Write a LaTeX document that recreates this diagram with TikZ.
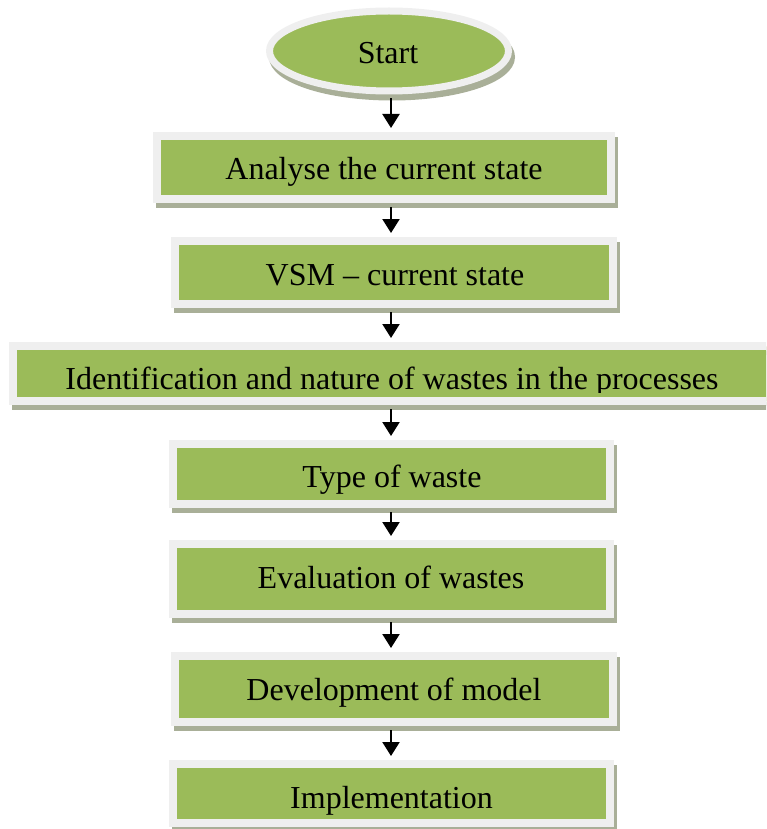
\documentclass[tikz,border=0pt]{standalone}
\usepackage{fontspec}
\setmainfont{Liberation Serif}
\usetikzlibrary{arrows.meta,shapes.geometric}
\definecolor{boxgreen}{HTML}{9BBB59}
\definecolor{boxrim}{HTML}{EFEFEF}
\definecolor{boxshade}{HTML}{A9AF98}
\tikzset{
  flowbox/.style={rectangle, fill=boxgreen, draw=boxrim, line width=8pt, inner sep=0pt,
    preaction={fill=boxshade, draw=boxshade, transform canvas={xshift=3pt, yshift=-5pt}}},
  startshape/.style={ellipse, fill=boxgreen, draw=boxrim, line width=7pt, inner sep=0pt,
    minimum width=239pt, minimum height=80pt,
    preaction={fill=boxshade, draw=boxshade, transform canvas={xshift=3pt, yshift=-6pt}}},
  label/.style={anchor=base, inner sep=0pt, font=\fontsize{32}{35}\selectfont},
  flowarrow/.style={line width=2.2pt, -{Triangle[width=17pt,length=14pt]}, shorten <=4pt, shorten >=4pt}
}
\begin{document}
\begin{tikzpicture}[x=1pt, y=-1pt]
\useasboundingbox (0,0) rectangle (766,829);
\clip (0,0) rectangle (766,829);
\coordinate (ax) at (391,0);
% start
\node[startshape] (b0) at (389,51) {};
\node[label] (t0) at (388,64) {Start};
% boxes
\node[flowbox, minimum width=454pt, minimum height=63pt] (b1) at (384,167.5) {};
\node[label] (t1) at (384,179) {Analyse the current state};
\node[flowbox, minimum width=438pt, minimum height=63pt] (b2) at (394,272.5) {};
\node[label] (t2) at (395,285) {VSM -- current state};
\node[flowbox, minimum width=758pt, minimum height=55pt] (b3) at (392,373.5) {};
\begin{scope}
\clip (0,342) rectangle (766,392);
\node[label] (t3) at (392,389) {Identification and nature of wastes in the processes};
\end{scope}
\node[flowbox, minimum width=437pt, minimum height=60pt] (b4) at (391.5,474) {};
\node[label] (t4) at (392,487) {Type of waste};
\node[flowbox, minimum width=437pt, minimum height=70pt] (b5) at (391.5,579) {};
\node[label] (t5) at (391,588) {Evaluation of wastes};
\node[flowbox, minimum width=438pt, minimum height=66pt] (b6) at (394,689) {};
\node[label] (t6) at (394,700) {Development of model};
\node[flowbox, minimum width=437pt, minimum height=59pt] (b7) at (391.5,793.5) {};
\node[label] (t7) at (391.5,808) {Implementation};
% arrows
\draw[flowarrow] (b0.south -| ax) -- (b1.north -| ax);
\draw[flowarrow] (b1.south -| ax) -- (b2.north -| ax);
\draw[flowarrow] (b2.south -| ax) -- (b3.north -| ax);
\draw[flowarrow] (b3.south -| ax) -- (b4.north -| ax);
\draw[flowarrow] (b4.south -| ax) -- (b5.north -| ax);
\draw[flowarrow] (b5.south -| ax) -- (b6.north -| ax);
\draw[flowarrow] (b6.south -| ax) -- (b7.north -| ax);
\end{tikzpicture}
\end{document}
